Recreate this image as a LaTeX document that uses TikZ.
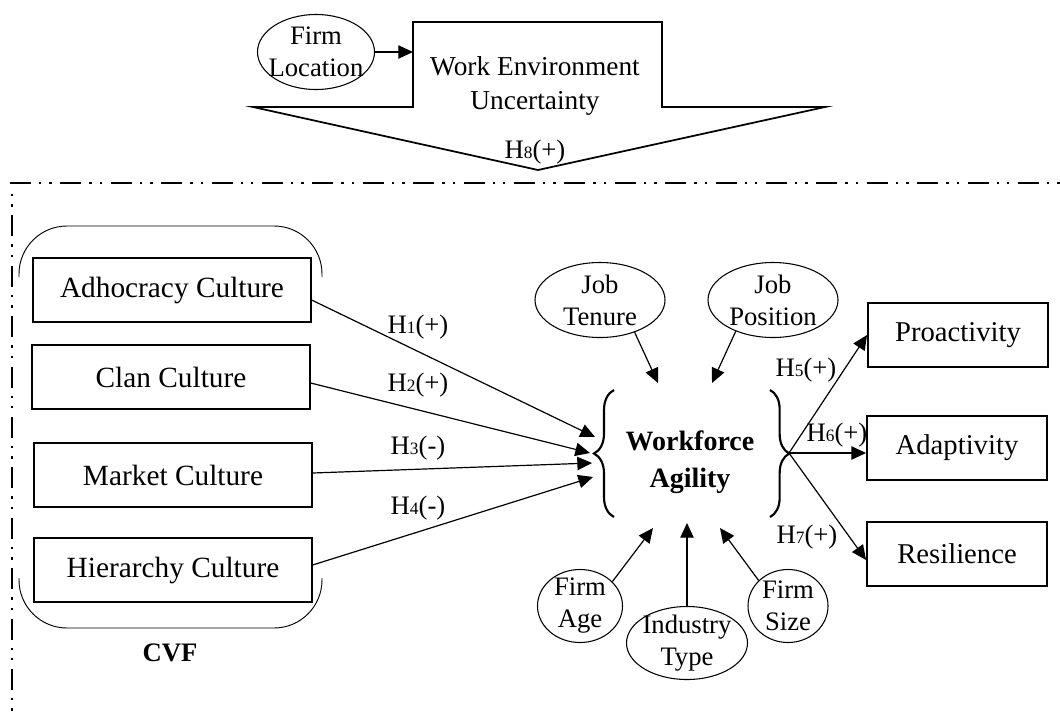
\documentclass[tikz,border=0pt]{standalone}
\usepackage{fontspec}
\setmainfont{Liberation Serif}
\usetikzlibrary{shapes.geometric, arrows.meta, decorations.pathreplacing, calc}

% small digit after the H of a hypothesis label
\newcommand{\hlab}[2]{H{\fontsize{13}{13}\selectfont #1}(#2)}

\begin{document}
\begin{tikzpicture}[x=0.75pt, y=-0.75pt,
  every node/.style={font=\fontsize{20}{24}\selectfont},
  box/.style={draw, line width=1.4pt, minimum width=208pt, minimum height=48pt, inner sep=0pt,
              font=\fontsize{22}{26}\selectfont},
  outbox/.style={box, minimum width=135pt, font=\fontsize{21.5}{26}\selectfont},
  oval/.style={draw, ellipse, line width=0.8pt, inner sep=0pt},
  lbl/.style={align=center, inner sep=0pt, font=\fontsize{20}{24}\selectfont},
  boldtxt/.style={font=\fontsize{21}{27.75}\selectfont\bfseries, align=center},
  link/.style={line width=0.9pt, -{Triangle[length=11pt, width=10pt]}},
  curly/.style={line width=1.6pt, decorate},
  frame/.style={line width=1.8pt},
  bracket/.style={line width=0.7pt, rounded corners=36pt}
]
\useasboundingbox (0,0) rectangle (1060,718);

% ---- work environment block arrow ----
\draw[line width=1.3pt, line join=miter]
  (253,107) -- (413,107) -- (413,22) -- (662,22) -- (662,107) -- (825,107) -- (538,170) -- cycle;
\node[align=center, font=\fontsize{20.5}{25.5}\selectfont] (weu) at (535,86) {Work Environment\\Uncertainty};
\node (h8) at (535,152) {\hlab{8}{+}};
\coordinate (weuw) at (413,52);
\node[oval, minimum width=87.75pt, minimum height=56.25pt,
      label={[lbl]center:{Firm\\Location}}] (loc) at (316,52) {};
\draw[link] (loc) -- (weuw);

% ---- dash-dot-dot frame ----
\draw[frame, dash pattern=on 15.75pt off 6pt on 1.8pt off 6pt on 1.8pt off 6.45pt]
  (10,183) -- (1060,183);
\draw[frame, dash pattern=on 1.8pt off 6pt on 1.8pt off 6.45pt on 15.75pt off 6pt]
  (12,194) -- (12,712);

% ---- competing values framework ----
\draw[bracket] (19,277) -- (19,226) -- (322,226) -- (322,277);
\draw[bracket] (19,578) -- (19,628) -- (322,628) -- (322,578);
\node[box] (adh) at (172,290) {Adhocracy Culture};
\node[box] (cla) at (171,377) {Clan Culture};
\node[box] (mar) at (173,475) {Market Culture};
\node[box] (hie) at (173,570) {Hierarchy Culture};
\node[font=\fontsize{20}{24}\selectfont\bfseries] (cvf) at (170,653) {CVF};

% ---- workforce agility ----
\node[boldtxt] (wag) at (690,462) {Workforce\\Agility};
\draw[curly, decoration={brace, amplitude=15pt}] (614,517) -- (614,390);
\draw[curly, decoration={brace, amplitude=14.5pt}] (770,390) -- (770,517);
\coordinate (wa) at (789,453);

\coordinate (in1) at (595,437);
\coordinate (in2) at (590,453);
\coordinate (in3) at (592,463);
\coordinate (in4) at (593,477);
\draw[link] ([yshift=-7.5pt]adh.east) -- (in1);
\draw[link] ([yshift=-4.5pt]cla.east) -- (in2);
\draw[link] ([yshift=1.5pt]mar.east) -- (in3);
\draw[link] ([yshift=3.75pt]hie.east) -- (in4);
\node (h1) at (418,327) {\hlab{1}{+}};
\node (h2) at (418,385) {\hlab{2}{+}};
\node (h3) at (418,448) {\hlab{3}{-}};
\node (h4) at (418,508) {\hlab{4}{-}};

% ---- control variables ----
\node[oval, minimum width=97.5pt, minimum height=56.25pt,
      label={[lbl]center:{Job\\Tenure}}] (ten) at (600,300) {};
\node[oval, minimum width=97.5pt, minimum height=56.25pt,
      label={[lbl]center:{Job\\Position}}] (pos) at (773,300) {};
\node[oval, minimum width=63.75pt, minimum height=54.75pt,
      label={[lbl]center:{Firm\\Age}}] (age) at (580,606) {};
\node[oval, minimum width=90.75pt, minimum height=54.75pt,
      label={[lbl]center:{Industry\\Type}}] (ind) at (687,643) {};
\node[oval, minimum width=60pt, minimum height=54.75pt,
      label={[lbl]center:{Firm\\Size}}] (siz) at (788,606) {};
\coordinate (c1) at (658,383);
\coordinate (c2) at (712,383);
\coordinate (c3) at (653,528);
\coordinate (c4) at (687,523);
\coordinate (c5) at (720,528);
\draw[link] (ten.-43) -- (c1);
\draw[link] (pos.220) -- (c2);
\draw[link] (age.37) -- (c3);
\draw[link] (ind.north) -- (c4);
\draw[link] (siz.139) -- (c5);

% ---- outcomes ----
\node[outbox] (pro) at (958,335) {Proactivity};
\node[outbox] (ada) at (957,448) {Adaptivity};
\node[outbox] (res) at (957,554) {Resilience};
\draw[link] (wa) -- (pro.west);
\draw[link] (wa) -- (ada.west |- wa);
\draw[link] (wa) -- ([yshift=-4.5pt]res.west);
\node (h5) at (806,370) {\hlab{5}{+}};
\node (h6) at (837,435) {\hlab{6}{+}};
\node (h7) at (807,537) {\hlab{7}{+}};
\end{tikzpicture}
\end{document}
